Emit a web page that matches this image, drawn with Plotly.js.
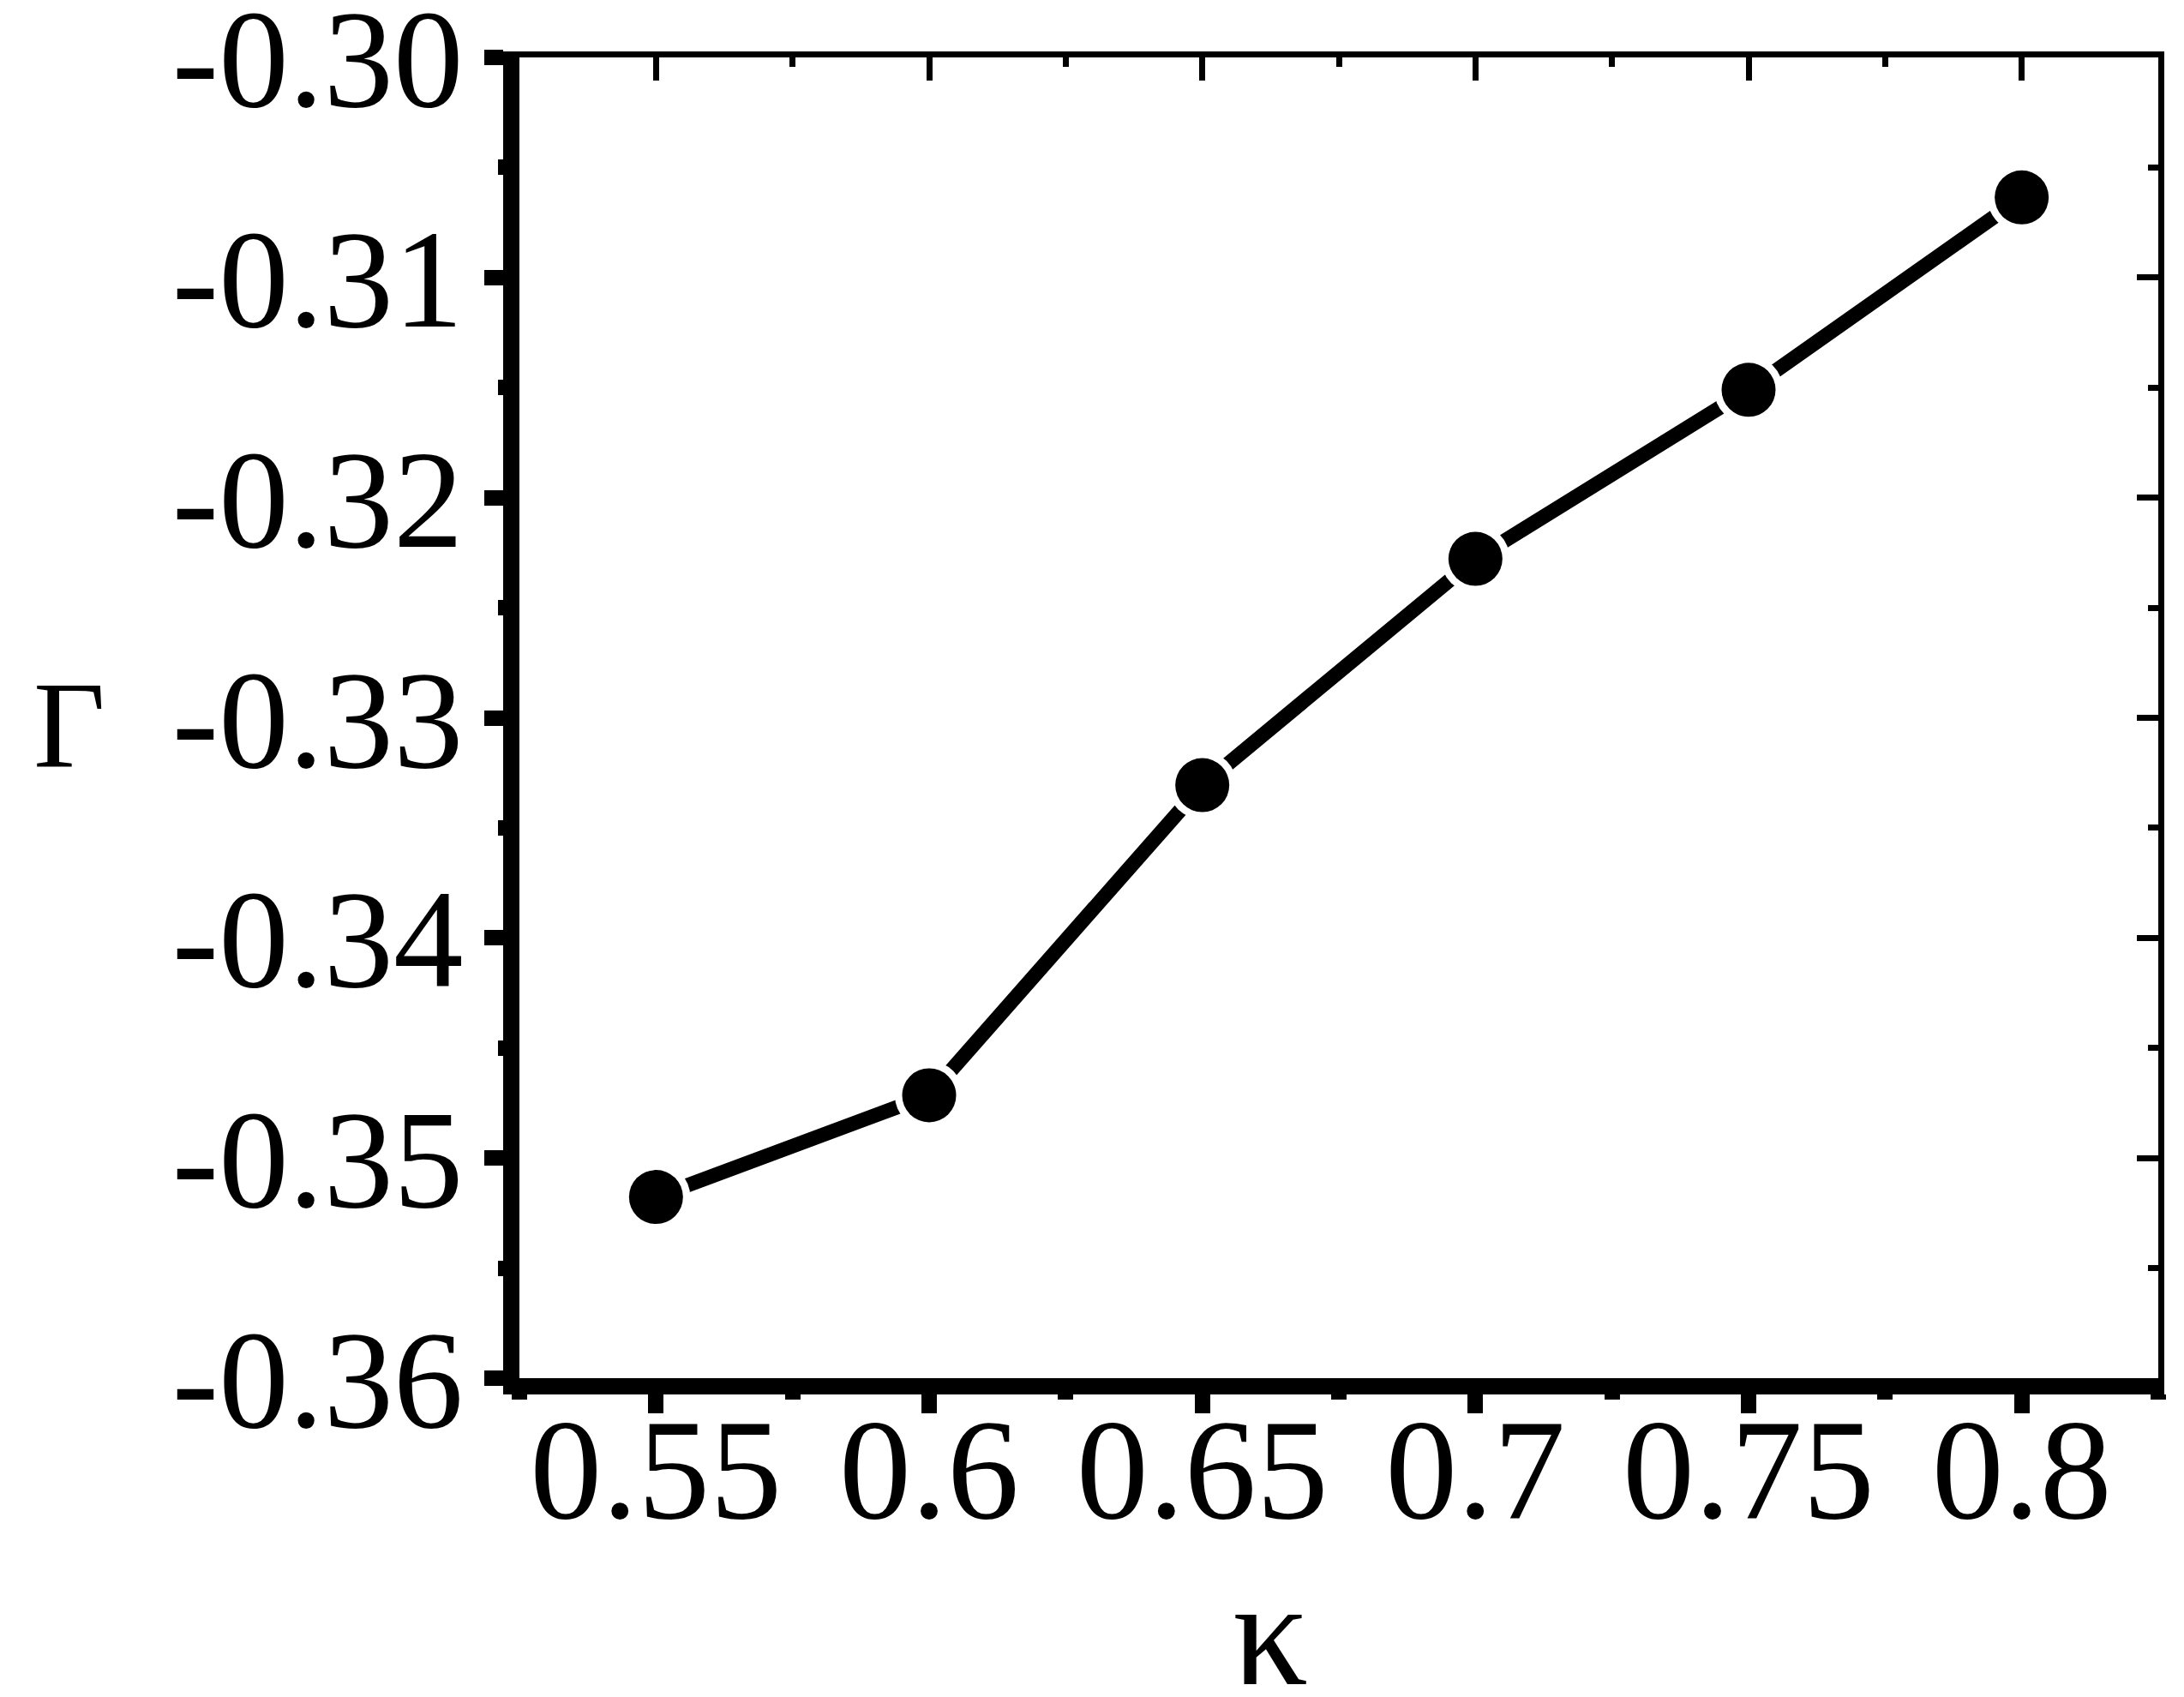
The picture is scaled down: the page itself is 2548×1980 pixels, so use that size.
<!DOCTYPE html>
<html>
<head>
<meta charset="utf-8">
<script src="https://cdn.plot.ly/plotly-3.0.1.min.js"></script>
<style>html,body{margin:0;padding:0;background:#fff;}#chart{width:2548px;height:1980px;}</style>
</head>
<body>
<div id="chart"></div>
<script>
// ---- data ----
const kappa = [0.55, 0.60, 0.65, 0.70, 0.75, 0.80];
const gamma = [-0.35177, -0.34715, -0.33306, -0.32278, -0.31510, -0.30636];

const xTickVals = [0.55, 0.60, 0.65, 0.70, 0.75, 0.80];
const xTickLabels = ["0.55", "0.6", "0.65", "0.7", "0.75", "0.8"];
const yTickVals = [-0.36, -0.35, -0.34, -0.33, -0.32, -0.31, -0.30];
const yTickLabels = ["-0.36", "-0.35", "-0.34", "-0.33", "-0.32", "-0.31", "-0.30"];

const xTitle = "κ";
const yTitle = "Γ";

// ---- chart ----
const FONT = "'Liberation Serif', 'Times New Roman', Times, serif";
const EPS = 1e-6;
const xRange = [0.525 - EPS, 0.825 + EPS];
const yRange = [-0.36 - EPS, -0.30 + EPS];

const traces = [
  { x: kappa, y: gamma, xaxis: 'x', yaxis: 'y', mode: 'lines',
    line: { color: '#000', width: 17 }, hoverinfo: 'skip', showlegend: false },
  { x: kappa, y: gamma, xaxis: 'x2', yaxis: 'y2', mode: 'markers',
    marker: { color: '#fff', size: 80, line: { width: 0 } }, hoverinfo: 'skip', showlegend: false },
  { x: kappa, y: gamma, xaxis: 'x2', yaxis: 'y2', mode: 'markers',
    marker: { color: '#000', size: 63, line: { width: 0 } }, showlegend: false }
];

const layout = {
  width: 2548, height: 1980,
  paper_bgcolor: '#fff', plot_bgcolor: '#fff',
  margin: { l: 606, r: 30, t: 67, b: 372, pad: 0 },
  showlegend: false,
  xaxis: {
    range: xRange, showgrid: false, zeroline: false,
    showline: true, linecolor: '#000', linewidth: 19,
    ticks: 'outside', ticklen: 22, tickwidth: 18, tickcolor: '#000',
    tickmode: 'array', tickvals: xTickVals, ticktext: xTickLabels,
    ticklabelstandoff: -80, ticklabeloverflow: 'allow',
    tickfont: { family: FONT, size: 168, color: '#000' },
    minor: { tickmode: 'linear', tick0: 0.525, dtick: 0.025, ticks: 'outside', ticklen: 6, tickwidth: 18, tickcolor: '#000', showgrid: false }
  },
  xaxis2: {
    range: xRange, overlaying: 'x', side: 'top', anchor: 'y',
    showgrid: false, zeroline: false,
    showline: true, linecolor: '#000', linewidth: 7,
    ticks: 'inside', ticklen: 27, tickwidth: 7, tickcolor: '#000',
    tickmode: 'array', tickvals: xTickVals, showticklabels: false,
    minor: { tickmode: 'linear', tick0: 0.525, dtick: 0.025, ticks: 'inside', ticklen: 11, tickwidth: 7, tickcolor: '#000', showgrid: false }
  },
  yaxis: {
    range: yRange, showgrid: false, zeroline: false,
    showline: true, linecolor: '#000', linewidth: 19,
    ticks: 'outside', ticklen: 22, tickwidth: 18, tickcolor: '#000',
    tickmode: 'array', tickvals: yTickVals, ticktext: yTickLabels,
    ticklabelstandoff: -8, ticklabeloverflow: 'allow',
    tickfont: { family: FONT, size: 163, color: '#000' },
    minor: { tickmode: 'linear', tick0: -0.36, dtick: 0.005, ticks: 'outside', ticklen: 6, tickwidth: 18, tickcolor: '#000', showgrid: false }
  },
  yaxis2: {
    range: yRange, overlaying: 'y', side: 'right', anchor: 'x',
    showgrid: false, zeroline: false,
    showline: true, linecolor: '#000', linewidth: 7,
    ticks: 'inside', ticklen: 25, tickwidth: 7, tickcolor: '#000',
    tickmode: 'array', tickvals: yTickVals, showticklabels: false,
    minor: { tickmode: 'linear', tick0: -0.36, dtick: 0.005, ticks: 'inside', ticklen: 12, tickwidth: 7, tickcolor: '#000', showgrid: false }
  },
  annotations: [
    { text: yTitle, xref: 'paper', yref: 'paper', x: -0.2746, y: 0.495,
      xanchor: 'center', yanchor: 'middle', showarrow: false,
      font: { family: FONT, size: 145, color: '#000' } },
    { text: xTitle, xref: 'paper', yref: 'paper', x: 0.4582, y: -0.1934,
      xanchor: 'center', yanchor: 'middle', showarrow: false,
      font: { family: FONT, size: 175, color: '#000' } }
  ]
};

Plotly.newPlot('chart', traces, layout, { staticPlot: true, displayModeBar: false });
</script>
</body>
</html>
